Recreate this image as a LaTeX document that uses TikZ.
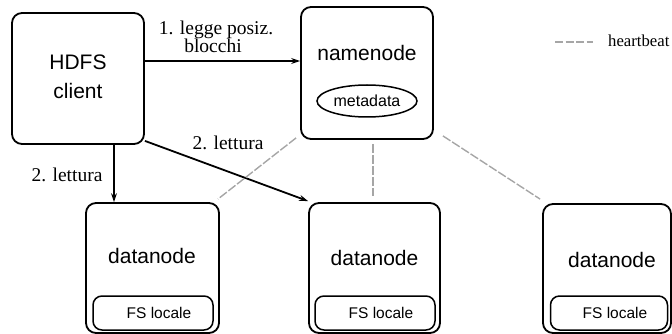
\documentclass[tikz,border=0pt]{standalone}
\usepackage{fontspec}
\setmainfont{Liberation Serif}
\newfontfamily\boxfont{Liberation Sans}
\usetikzlibrary{arrows.meta,calc,shapes.geometric}

\tikzset{
  bigbox/.style={draw, line width=1.8pt, rounded corners=10pt, inner sep=0pt},
  fsbox/.style={draw, line width=1.5pt, rounded corners=9pt, minimum height=34pt,
                inner sep=0pt, font=\boxfont\fontsize{15.5}{18}\selectfont},
  boxtext/.style={font=\boxfont\fontsize{21}{29}\selectfont, align=center, inner sep=0pt},
  lbl/.style={font=\fontsize{19.5}{18}\selectfont, align=center, inner sep=0pt},
  arr/.style={line width=1.8pt, -{Stealth[length=9pt,width=6pt]}},
  hb/.style={gray!70, line width=1.4pt, dash pattern=on 9pt off 2pt}
}

\begin{document}
\begin{tikzpicture}[x=1pt,y=-1pt]
  \useasboundingbox (0,0) rectangle (672,334);

  % client and namenode
  \node[bigbox, minimum width=132pt, minimum height=131pt] (client) at (78,78.5) {};
  \node[boxtext] (clienttxt) at (78,77) {HDFS\\client};

  \node[bigbox, minimum width=132pt, minimum height=132pt] (nn) at (367,73) {};
  \node[boxtext] (nntxt) at (367,53) {namenode};
  \node[draw, ellipse, line width=1.5pt, minimum width=100pt, minimum height=32pt,
        inner sep=0pt, font=\boxfont\fontsize{16}{18}\selectfont] (meta) at (367,101) {metadata};

  % datanodes
  \node[bigbox, minimum width=133pt, minimum height=130pt] (dn1) at (152.5,268) {};
  \node[boxtext] (dn1txt) at (152,256) {datanode};
  \node[fsbox, minimum width=120pt] (fs1) at (153,313) {\hspace*{12pt}FS locale};

  \node[bigbox, minimum width=131pt, minimum height=130pt] (dn2) at (374.5,268) {};
  \node[boxtext] (dn2txt) at (374.5,258) {datanode};
  \node[fsbox, minimum width=120pt] (fs2) at (375,313) {\hspace*{12pt}FS locale};

  \node[bigbox, minimum width=128pt, minimum height=129pt] (dn3) at (607,268.5) {};
  \node[boxtext] (dn3txt) at (612,260) {datanode};
  \node[fsbox, minimum width=117pt] (fs3) at (609,313) {\hspace*{12pt}FS locale};

  % read paths
  \draw[arr] (client.east |- 0,61) -- (nn.west |- 0,61);
  \node[lbl] (l1) at (216,37) {1. legge posiz.\\\hspace*{-6pt}blocchi};

  \draw[arr] (client.south -| 114,0) -- (dn1.north -| 114,0);
  \node[lbl] (l2) at (67,175) {2. lettura};

  \draw[arr] ($(client.south east)+(0,-4)$) -- ($(dn2.north west)+(0,-1)$);
  \node[lbl] (l3) at (228,143) {2. lettura};

  % heartbeats
  \draw[hb] ($(nn.south west)+(-4,-2)$) -- ($(dn1.north east)+(-2,-3)$);
  \draw[hb] (nn.south -| 373,0) ++(0,4) -- ($(dn2.north -| 373,0)+(0,-6)$);
  \draw[hb] ($(nn.south east)+(9,-4)$) -- ($(dn3.north west)+(-2,-4)$);

  % legend
  \coordinate (lega) at (555,42);
  \coordinate (legb) at (593,42);
  \draw[hb, dash pattern=on 8pt off 2.5pt] (lega) -- (legb);
  \node[font=\fontsize{16.7}{20}\selectfont, anchor=west, inner sep=0pt] (legtxt) at (608,41) {heartbeat};
\end{tikzpicture}
\end{document}
